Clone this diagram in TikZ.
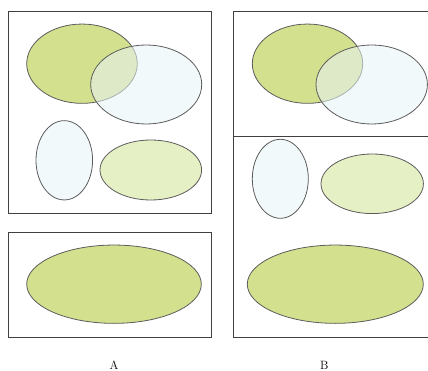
\documentclass[tikz,border=0pt]{standalone}
\usepackage{tikz}
\usetikzlibrary{shapes.geometric}
\definecolor{leaf}{HTML}{D3E08E}
\definecolor{pale}{HTML}{E6F0C5}
\definecolor{mist}{HTML}{E8F4F6}
\definecolor{rim}{HTML}{5C5C5C}
\definecolor{frame}{HTML}{404040}

\begin{document}
\begin{tikzpicture}[x=1pt, y=-1pt,
  blob/.style={ellipse, draw=rim, line width=0.8pt, inner sep=0pt},
  leafblob/.style={blob, fill=leaf},
  paleblob/.style={blob, fill=pale},
  mistblob/.style={blob, fill=mist, fill opacity=0.55},
  panel/.style={draw=frame, line width=0.8pt},
  caption/.style={font=\large}
]
  \useasboundingbox (0,0) rectangle (428,371);

  % panel A
  \draw[panel] (8.5,11) rectangle (211,213.5);
  \draw[panel] (8.5,232) rectangle (211,337);
  \node[leafblob, minimum width=110.6pt, minimum height=79.3pt] (leafA) at (82,63.7) {};
  \node[mistblob, minimum width=111pt, minimum height=79pt] (mistA) at (146.2,84.5) {};
  \node[mistblob, minimum width=56.6pt, minimum height=79.3pt] (dropA) at (64.3,160.3) {};
  \node[paleblob, minimum width=101.6pt, minimum height=60pt] (paleA) at (150.8,170) {};
  \node[leafblob, minimum width=174.6pt, minimum height=78.3pt] (baseA) at (114,284.2) {};

  % panel B
  \draw[panel] (428,11) -- (233.5,11) -- (233.5,337) -- (428,337);
  \draw[panel] (233.5,136) -- (428,136);
  \node[leafblob, minimum width=110.4pt, minimum height=79.3pt] (leafB) at (307.5,63.7) {};
  \node[mistblob, minimum width=111.4pt, minimum height=79pt] (mistB) at (371.7,84.5) {};
  \node[mistblob, minimum width=56pt, minimum height=79pt] (dropB) at (280.3,178.8) {};
  \node[paleblob, minimum width=102.4pt, minimum height=59.6pt] (paleB) at (372.2,183.8) {};
  \node[leafblob, minimum width=176pt, minimum height=78.3pt] (baseB) at (335.3,284.2) {};

  % captions
  \node[caption] (capA) at (114,365) {A};
  \node[caption] (capB) at (324.3,365) {B};
\end{tikzpicture}
\end{document}
